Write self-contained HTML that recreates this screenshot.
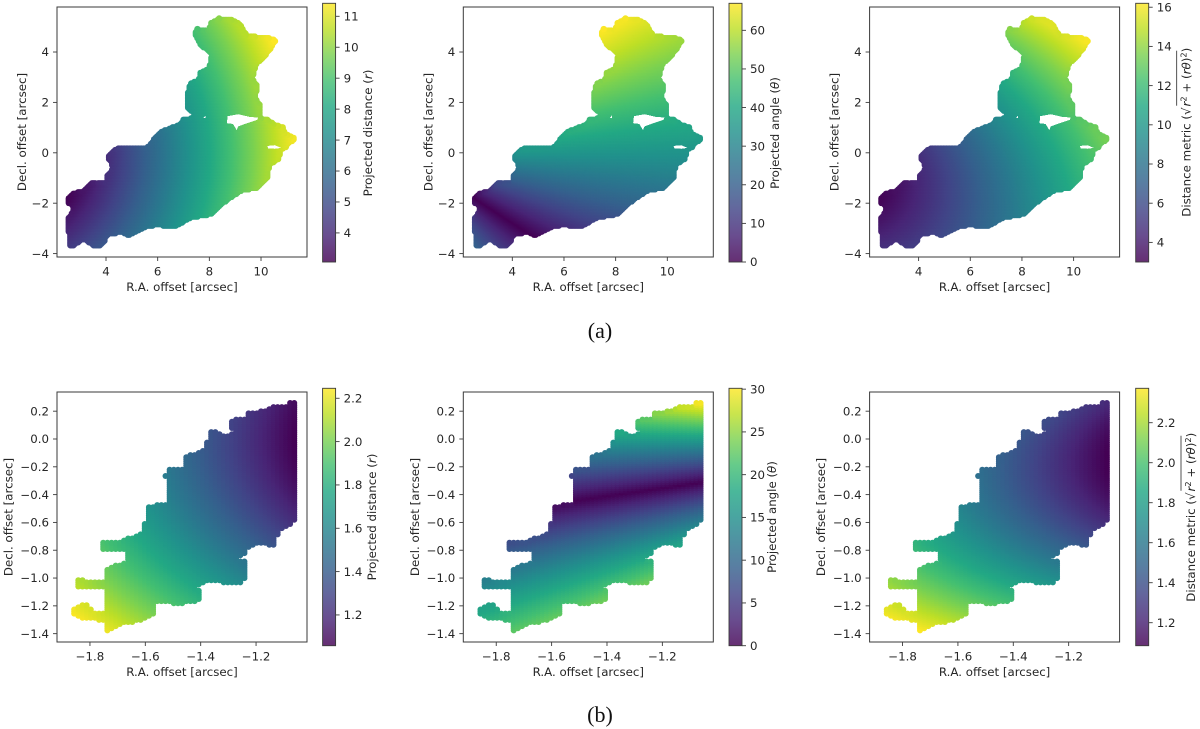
<!DOCTYPE html>
<html>
<head>
<meta charset="utf-8">
<title>Projected distance, angle and distance metric maps</title>
<style>
html,body{margin:0;padding:0;background:#fff;width:1200px;height:729px;overflow:hidden}
svg{display:block}
text{font-family:"DejaVu Sans","Liberation Sans",sans-serif;font-size:11.8px;fill:#262626}
.cap{font-family:"Liberation Serif",serif;font-size:22px;fill:#111}
.it{font-style:italic}
</style>
</head>
<body>
<svg id="fig" width="1200" height="729" viewBox="0 0 1200 729" xmlns="http://www.w3.org/2000/svg">
<defs id="defs"></defs>
<g id="marks"></g>
<g id="axes"></g>

<text class="cap" x="600" y="338" text-anchor="middle">(a)</text>
<text class="cap" x="600" y="722" text-anchor="middle">(b)</text>

<text x="182" y="291" text-anchor="middle">R.A. offset [arcsec]</text>
<text x="588.3" y="291" text-anchor="middle">R.A. offset [arcsec]</text>
<text x="994.6" y="291" text-anchor="middle">R.A. offset [arcsec]</text>
<text x="182" y="676" text-anchor="middle">R.A. offset [arcsec]</text>
<text x="588.3" y="676" text-anchor="middle">R.A. offset [arcsec]</text>
<text x="994.6" y="676" text-anchor="middle">R.A. offset [arcsec]</text>

<text transform="translate(26,132) rotate(-90)" text-anchor="middle">Decl. offset [arcsec]</text>
<text transform="translate(432.3,132) rotate(-90)" text-anchor="middle">Decl. offset [arcsec]</text>
<text transform="translate(838.6,132) rotate(-90)" text-anchor="middle">Decl. offset [arcsec]</text>
<text transform="translate(12.5,517) rotate(-90)" text-anchor="middle">Decl. offset [arcsec]</text>
<text transform="translate(418.8,517) rotate(-90)" text-anchor="middle">Decl. offset [arcsec]</text>
<text transform="translate(825.1,517) rotate(-90)" text-anchor="middle">Decl. offset [arcsec]</text>

<text transform="translate(372,133) rotate(-90)" text-anchor="middle">Projected distance (<tspan class="it">r</tspan>)</text>
<text transform="translate(779,133) rotate(-90)" text-anchor="middle">Projected angle (<tspan class="it">θ</tspan>)</text>
<text transform="translate(376,517) rotate(-90)" text-anchor="middle">Projected distance (<tspan class="it">r</tspan>)</text>
<text transform="translate(776,517) rotate(-90)" text-anchor="middle">Projected angle (<tspan class="it">θ</tspan>)</text>

<g transform="translate(1190.7,216.7) rotate(-90)">
<text x="0" y="0">Distance metric (√<tspan class="it" dx="1">r</tspan><tspan dy="-4" font-size="8.3">2</tspan><tspan dy="4"> + (</tspan><tspan class="it">rθ</tspan><tspan>)</tspan><tspan dy="-4" font-size="8.3">2</tspan><tspan dy="4">)</tspan></text>
<line x1="111" y1="-14" x2="166" y2="-14" stroke="#262626" stroke-width="0.8"></line>
</g>
<g transform="translate(1195,601.7) rotate(-90)">
<text x="0" y="0">Distance metric (√<tspan class="it" dx="1">r</tspan><tspan dy="-4" font-size="8.3">2</tspan><tspan dy="4"> + (</tspan><tspan class="it">rθ</tspan><tspan>)</tspan><tspan dy="-4" font-size="8.3">2</tspan><tspan dy="4">)</tspan></text>
<line x1="111" y1="-14" x2="166" y2="-14" stroke="#262626" stroke-width="0.8"></line>
</g>
</svg>

<script>
// ---- chart data (arcsec offsets) ----
const outlineA = [[2.44,-1.94],[2.44,-1.74],[2.61,-1.57],[2.80,-1.48],[3.12,-1.41],[3.28,-1.21],[3.45,-1.05],[3.64,-1.11],[3.96,-1.08],[3.93,-0.88],[4.15,-0.62],[4.13,-0.44],[3.99,-0.26],[4.03,-0.02],[4.28,0.22],[4.61,0.31],[5.58,0.31],[5.90,0.77],[6.16,0.97],[6.80,1.19],[6.93,1.43],[7.25,1.46],[7.37,1.52],[7.14,1.62],[7.04,1.78],[7.03,2.23],[7.12,2.56],[7.19,2.82],[7.51,2.96],[7.57,3.26],[7.90,3.42],[8.00,3.88],[7.57,4.21],[7.38,4.61],[7.36,4.87],[7.51,5.03],[7.90,4.94],[7.96,5.20],[8.35,5.44],[8.87,5.40],[9.25,5.20],[9.51,4.74],[10.22,4.67],[10.54,4.63],[10.67,4.45],[10.41,4.01],[10.16,3.68],[9.90,3.48],[9.77,2.96],[9.99,2.62],[9.86,2.23],[10.09,1.90],[10.09,1.43],[10.28,1.41],[10.61,1.19],[10.93,1.10],[11.00,0.84],[11.38,0.67],[11.41,0.47],[11.19,0.35],[11.00,0.11],[10.84,0.04],[10.80,-0.29],[10.41,-0.55],[10.35,-1.01],[9.90,-1.48],[9.25,-1.61],[8.61,-2.07],[8.15,-2.54],[7.32,-2.67],[6.74,-3.00],[6.48,-3.04],[5.96,-2.96],[5.58,-3.04],[5.12,-3.26],[4.86,-3.39],[4.61,-3.26],[4.09,-3.35],[4.09,-3.53],[3.83,-3.79],[3.51,-3.79],[3.12,-3.53],[2.80,-3.79],[2.48,-3.79],[2.44,-2.60],[2.67,-2.20],[2.44,-2.03]];
const holeA1 = [[8.70,1.46],[9.12,1.54],[9.57,1.43],[9.90,1.41],[9.86,1.30],[9.38,1.14],[9.12,1.04],[9.06,0.88],[8.91,1.14],[8.67,1.17]];
const holeA2 = [[7.76,1.38],[7.86,1.50],[7.86,1.36]];
const holeA3 = [[10.23,0.28],[10.54,0.31],[10.81,0.19],[10.54,0.15],[10.27,0.17]];
const outlineB = [[-1.051,0.268],[-1.077,0.276],[-1.095,0.25],[-1.143,0.24],[-1.161,0.221],[-1.222,0.201],[-1.240,0.185],[-1.240,0.153],[-1.300,0.149],[-1.304,0.088],[-1.288,0.06],[-1.312,0.034],[-1.342,0.077],[-1.381,0.045],[-1.384,-0.067],[-1.439,-0.103],[-1.460,-0.127],[-1.463,-0.199],[-1.523,-0.211],[-1.525,-0.24],[-1.541,-0.247],[-1.537,-0.278],[-1.523,-0.283],[-1.523,-0.451],[-1.601,-0.48],[-1.605,-0.595],[-1.619,-0.619],[-1.631,-0.619],[-1.619,-0.655],[-1.607,-0.667],[-1.680,-0.714],[-1.685,-0.734],[-1.758,-0.734],[-1.776,-0.768],[-1.758,-0.815],[-1.674,-0.815],[-1.667,-0.883],[-1.710,-0.887],[-1.746,-0.935],[-1.749,-1.014],[-1.806,-1.009],[-1.830,-0.991],[-1.854,-1.014],[-1.854,-1.063],[-1.836,-1.079],[-1.746,-1.086],[-1.749,-1.242],[-1.782,-1.23],[-1.818,-1.171],[-1.860,-1.206],[-1.887,-1.23],[-1.866,-1.261],[-1.830,-1.309],[-1.752,-1.314],[-1.758,-1.374],[-1.734,-1.391],[-1.680,-1.333],[-1.619,-1.326],[-1.559,-1.271],[-1.557,-1.182],[-1.499,-1.194],[-1.475,-1.199],[-1.414,-1.175],[-1.384,-1.135],[-1.396,-1.086],[-1.412,-1.063],[-1.378,-1.031],[-1.324,-1.038],[-1.306,-1.05],[-1.258,-1.05],[-1.224,-1.002],[-1.224,-0.894],[-1.240,-0.858],[-1.270,-0.863],[-1.240,-0.84],[-1.216,-0.775],[-1.168,-0.763],[-1.149,-0.786],[-1.131,-0.775],[-1.113,-0.667],[-1.095,-0.647],[-1.051,-0.595]];

const raTicksA = [4,6,8,10];
const declTicksA = [-4,-2,0,2,4];
const raTicksB = [-1.8,-1.6,-1.4,-1.2];
const declTicksB = [0.2,0,-0.2,-0.4,-0.6,-0.8,-1.0,-1.2,-1.4];

const cbTicksA1 = [4,5,6,7,8,9,10,11];
const cbTicksA2 = [0,10,20,30,40,50,60];
const cbTicksA3 = [4,6,8,10,12,14,16];
const cbTicksB1 = [1.2,1.4,1.6,1.8,2.0,2.2];
const cbTicksB2 = [0,5,10,15,20,25,30];
const cbTicksB3 = [1.2,1.4,1.6,1.8,2.0,2.2];

const limitsXA = [2.103,11.78];
const limitsYA = [-4.135,5.786];
const limitsXB = [-1.919,-1.016];
const limitsYB = [-1.46,0.338];

const rangeA1 = [3.06,11.42];
const rangeA2 = [0,67];
const rangeA3 = [3.0,16.2];
const rangeB1 = [1.058,2.246];
const rangeB2 = [0,30.1];
const rangeB3 = [1.085,2.372];

const zeroAngleA = -33.8;
const zeroAngleB = 16;
const sampleStepA = 0.06;
const sampleStepB = 0.015;

const viridis = ['#440154','#482576','#414487','#35608d','#2a788e','#21918c','#22a884','#43bf71','#7ad151','#bddf26','#fde725'];

// ---- helpers ----
const NS = 'http://www.w3.org/2000/svg';
const marksLayer = document.getElementById('marks');
const axesLayer = document.getElementById('axes');
const defs = document.getElementById('defs');
const fmtInt = v => String(v).replace('-', '\u2212');
const fmt1 = v => v.toFixed(1).replace('-', '\u2212');

function mk(tag, attrs, parent){
  const el = document.createElementNS(NS, tag);
  for (const k in attrs) el.setAttribute(k, attrs[k]);
  parent.appendChild(el);
  return el;
}
function rgbOf(hex){
  return [parseInt(hex.slice(1,3),16),parseInt(hex.slice(3,5),16),parseInt(hex.slice(5,7),16)];
}
const viridisRgb = viridis.map(rgbOf);
function colorAt(t){
  t = Math.max(0, Math.min(1, t));
  const p = t * (viridisRgb.length - 1);
  const i = Math.min(Math.floor(p), viridisRgb.length - 2);
  const f = p - i, a = viridisRgb[i], b = viridisRgb[i+1];
  return 'rgb(' + Math.round(a[0]+(b[0]-a[0])*f) + ',' + Math.round(a[1]+(b[1]-a[1])*f) + ',' + Math.round(a[2]+(b[2]-a[2])*f) + ')';
}
function inside(poly, x, y){
  let c = false;
  for (let i = 0, j = poly.length - 1; i < poly.length; j = i++){
    const xi = poly[i][0], yi = poly[i][1], xj = poly[j][0], yj = poly[j][1];
    if ((yi > y) !== (yj > y) && x < (xj - xi) * (y - yi) / (yj - yi) + xi) c = !c;
  }
  return c;
}
const quantities = {
  r: (x, y) => Math.hypot(x, y),
  theta: (x, y, zero) => Math.abs(Math.atan(y / x) * 180 / Math.PI - zero),
  metric: (x, y, zero) => {
    const r = Math.hypot(x, y);
    const th = Math.abs(Math.atan(y / x) * 180 / Math.PI - zero) * Math.PI / 180;
    return Math.sqrt(r * r + r * th * r * th);
  }
};

// viridis gradient for the colorbars
const grad = mk('linearGradient', {id:'viridis-grad', x1:'0', y1:'1', x2:'0', y2:'0'}, defs);
viridis.forEach((c, i) => {
  mk('stop', {offset: i / (viridis.length - 1), 'stop-color': c}, grad);
});

const AXW = 250;
const lefts = [57, 463.3, 869.6];
const cbLefts = [322.6, 729, 1135.7];
const compass = [[1,0],[-1,0],[0,1],[0,-1],[0.71,0.71],[-0.71,0.71],[0.71,-0.71],[-0.71,-0.71]];

function drawPanel(opt){
  const L = lefts[opt.col], T = opt.top;
  const sx = v => L + (v - opt.xlim[0]) / (opt.xlim[1] - opt.xlim[0]) * AXW;
  const sy = v => T + AXW - (v - opt.ylim[0]) / (opt.ylim[1] - opt.ylim[0]) * AXW;
  const unitX = (opt.xlim[1] - opt.xlim[0]) / AXW;
  const unitY = (opt.ylim[1] - opt.ylim[0]) / AXW;

  // scatter points
  const g = mk('g', {}, marksLayer);
  
  
  if (opt.holes.length){
    const clipId = 'clip-' + opt.id;
    const cp = mk('clipPath', {id: clipId}, defs);
    const d = 'M' + L + ' ' + T + 'h' + AXW + 'v' + AXW + 'h-' + AXW + 'Z' +
      opt.holes.map(s => 'M' + s.map(p => sx(p[0]).toFixed(2) + ' ' + sy(p[1]).toFixed(2)).join('L') + 'Z').join('');
    mk('path', {d: d, 'clip-rule': 'evenodd'}, cp);
    g.setAttribute('clip-path', 'url(#' + clipId + ')');
  }
  const xs = opt.outline.map(p => p[0]), ys = opt.outline.map(p => p[1]);
  const xa = Math.min.apply(null, xs), xb = Math.max.apply(null, xs);
  const ya = Math.min.apply(null, ys), yb = Math.max.apply(null, ys);
  const s = opt.step;
  const fn = quantities[opt.quantity];
  for (let yy = ya; yy <= yb; yy += s){
    for (let xx = xa; xx <= xb; xx += s){
      if (!inside(opt.outline, xx, yy)) continue;
      const keep = compass.every(c => inside(opt.outline, xx + c[0] * opt.erode * unitX, yy + c[1] * opt.erode * unitY));
      if (!keep) continue;
      const val = fn(xx, yy, opt.zero);
      const t = (val - opt.range[0]) / (opt.range[1] - opt.range[0]);
      const pt = mk('circle', {cx: sx(xx).toFixed(2), cy: sy(yy).toFixed(2), r: opt.radius, fill: colorAt(t)}, g);
      
      
    }
  }

  // axes frame
  const frame = mk('rect', {x: L, y: T, width: AXW, height: AXW, fill: 'none', stroke: '#3a3a3a', 'stroke-width': 1}, axesLayer);
  
  

  opt.xticks.forEach(v => {
    const px = sx(v);
    const tick = mk('line', {x1: px, x2: px, y1: T + AXW, y2: T + AXW + 4, stroke: '#3a3a3a', 'stroke-width': 0.9}, axesLayer);
    
    
    const lab = mk('text', {x: px, y: T + AXW + 18.5, 'text-anchor': 'middle'}, axesLayer);
    lab.textContent = opt.fmt(v);
    
    
  });
  opt.yticks.forEach(v => {
    const py = sy(v);
    const tick = mk('line', {x1: L - 4, x2: L, y1: py, y2: py, stroke: '#3a3a3a', 'stroke-width': 0.9}, axesLayer);
    
    
    const lab = mk('text', {x: L - 8, y: py + 4.2, 'text-anchor': 'end'}, axesLayer);
    lab.textContent = opt.fmt(v);
    
    
  });

  // colorbar
  const cx = cbLefts[opt.col], cw = 13, ct = opt.cbTop, ch = opt.cbBottom - opt.cbTop;
  const bar = mk('rect', {x: cx, y: ct, width: cw, height: ch, fill: 'url(#viridis-grad)', 'fill-opacity': 0.82, stroke: '#3a3a3a', 'stroke-width': 0.9}, axesLayer);
  
  
  const cy = v => opt.cbBottom - (v - opt.range[0]) / (opt.range[1] - opt.range[0]) * ch;
  opt.cbTicks.forEach(v => {
    const py = cy(v);
    const tick = mk('line', {x1: cx + cw, x2: cx + cw + 4, y1: py, y2: py, stroke: '#3a3a3a', 'stroke-width': 0.9}, axesLayer);
    
    
    const lab = mk('text', {x: cx + cw + 8, y: py + 4.2, 'text-anchor': 'start'}, axesLayer);
    lab.textContent = opt.cbFmt(v);
    
    
  });
}

const holesA = [holeA1, holeA2, holeA3];
const rowA = {top: 7, xlim: limitsXA, ylim: limitsYA, outline: outlineA, holes: holesA, step: sampleStepA, radius: 3.2, erode: 2.6, zero: zeroAngleA, xticks: raTicksA, yticks: declTicksA, fmt: fmtInt, cbTop: 3.3, cbBottom: 262, cbFmt: fmtInt};
const rowB = {top: 392, xlim: limitsXB, ylim: limitsYB, outline: outlineB, holes: [], step: sampleStepB, radius: 3, erode: 1.6, zero: zeroAngleB, xticks: raTicksB, yticks: declTicksB, fmt: fmt1, cbTop: 388.3, cbBottom: 645.7, cbFmt: fmt1};

drawPanel(Object.assign({}, rowA, {id: 'a1', col: 0, quantity: 'r', range: rangeA1, cbTicks: cbTicksA1}));
drawPanel(Object.assign({}, rowA, {id: 'a2', col: 1, quantity: 'theta', range: rangeA2, cbTicks: cbTicksA2}));
drawPanel(Object.assign({}, rowA, {id: 'a3', col: 2, quantity: 'metric', range: rangeA3, cbTicks: cbTicksA3}));
drawPanel(Object.assign({}, rowB, {id: 'b1', col: 0, quantity: 'r', range: rangeB1, cbTicks: cbTicksB1}));
drawPanel(Object.assign({}, rowB, {id: 'b2', col: 1, quantity: 'theta', range: rangeB2, cbTicks: cbTicksB2, cbFmt: fmtInt}));
drawPanel(Object.assign({}, rowB, {id: 'b3', col: 2, quantity: 'metric', range: rangeB3, cbTicks: cbTicksB3}));
</script>
</body>
</html>
